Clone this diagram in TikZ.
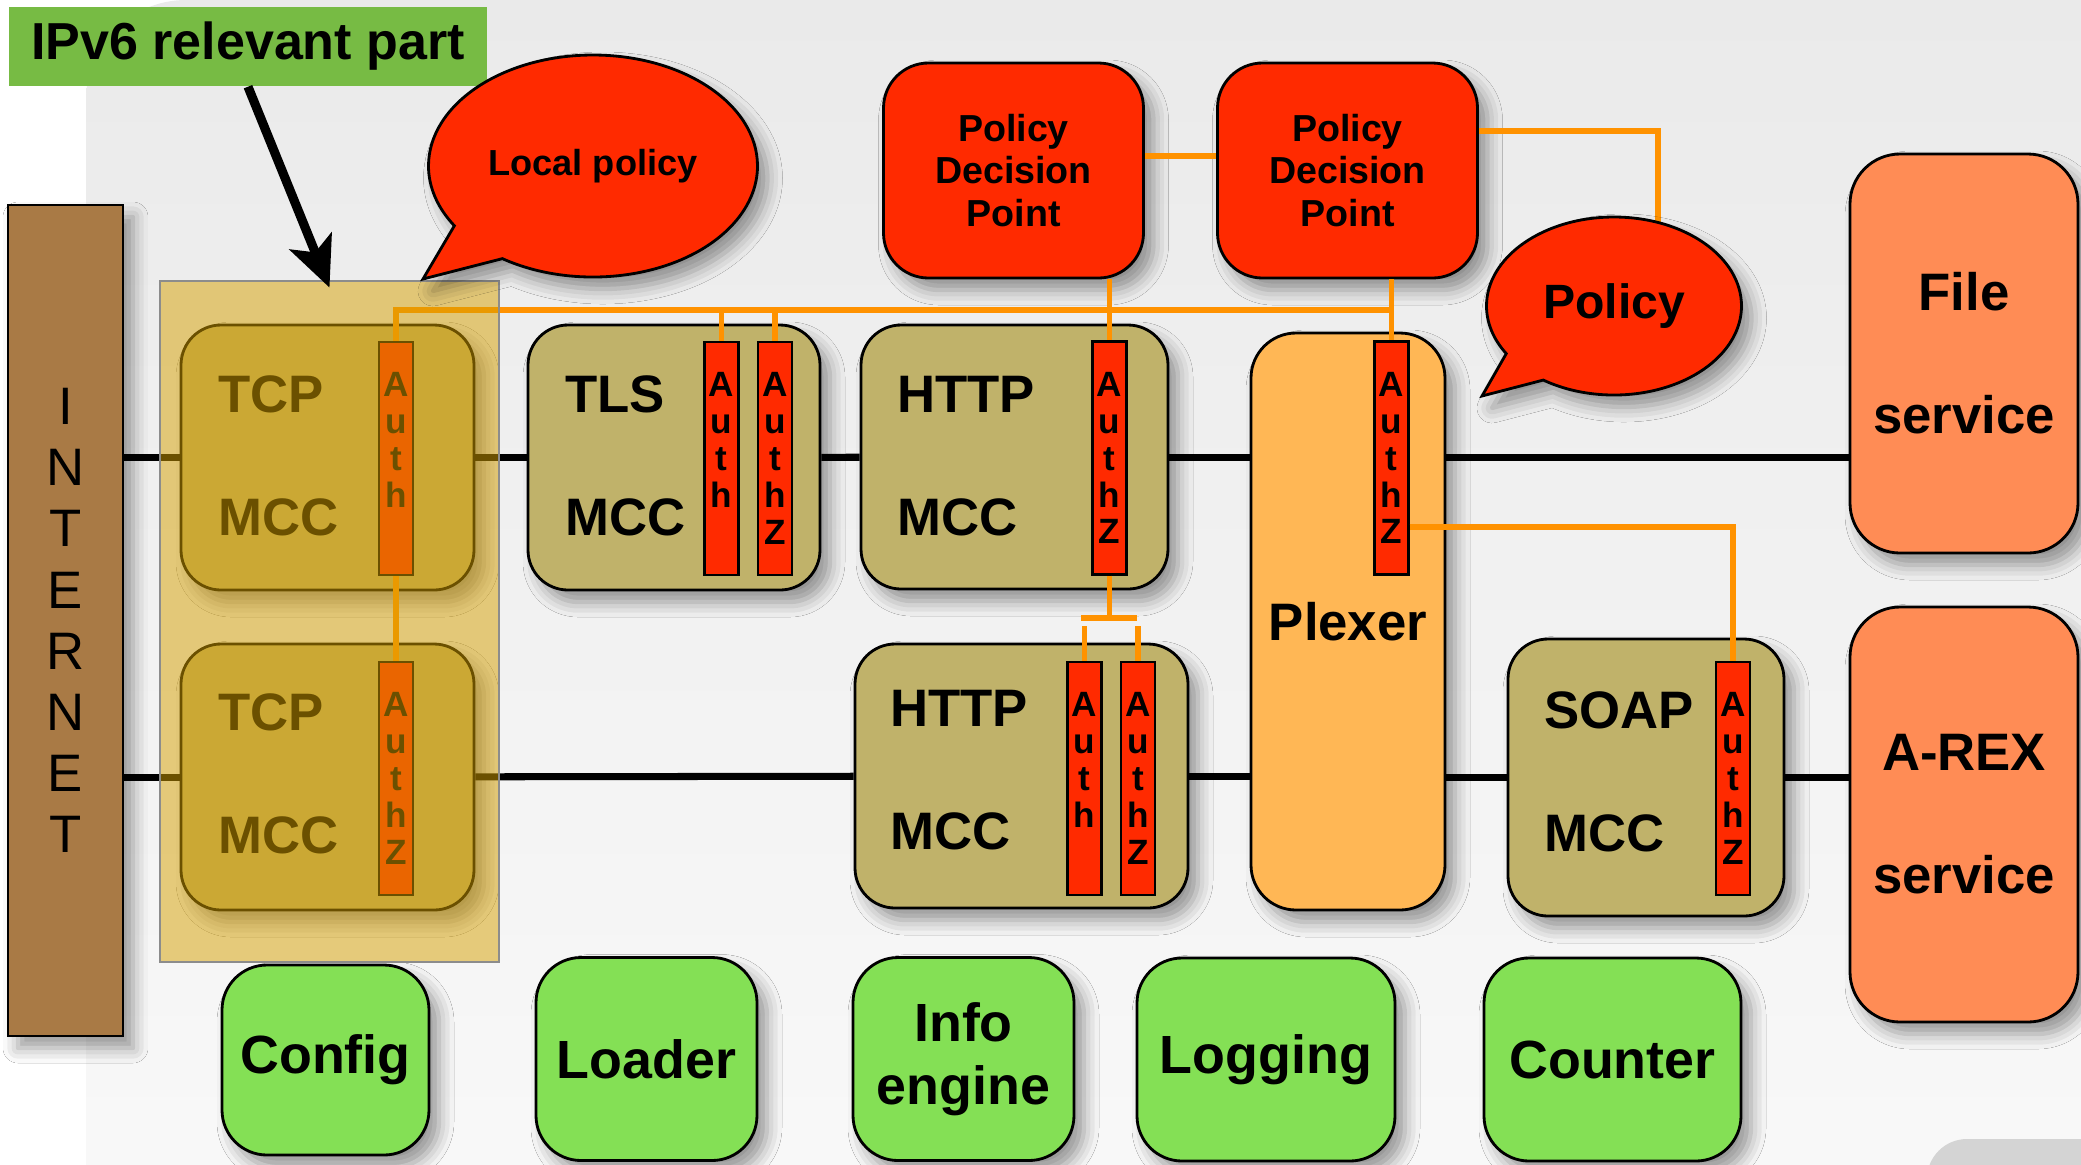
\documentclass[tikz,border=0pt]{standalone}
\usepackage{fontspec}
\setmainfont{Liberation Sans}
\usetikzlibrary{arrows.meta,shapes.callouts,shadows.blur}

\definecolor{bgtop}{RGB}{234,234,234}
\definecolor{bgbot}{RGB}{250,250,250}
\definecolor{blobgray}{RGB}{212,212,212}
\definecolor{ipvgreen}{RGB}{119,187,68}
\definecolor{inetbrown}{RGB}{169,122,69}
\definecolor{mcctan}{RGB}{192,178,106}
\definecolor{authred}{RGB}{255,42,0}
\definecolor{pdpred}{RGB}{255,42,0}
\definecolor{plexorange}{RGB}{255,183,85}
\definecolor{servorange}{RGB}{255,140,85}
\definecolor{utilgreen}{RGB}{132,224,85}
\definecolor{polorange}{RGB}{255,146,0}
\definecolor{zonegold}{RGB}{214,160,0}

\begin{document}
\begin{tikzpicture}[x=0.1mm, y=-0.1mm,
  softshadow/.style={blur shadow={shadow xshift=1mm, shadow yshift=-1.2mm, shadow blur radius=1.5mm, shadow opacity=40}},
  mcc/.style={draw, line width=0.8pt, rounded corners=4mm, fill=mcctan, softshadow},
  mcctext/.style={anchor=west, inner sep=0pt, font=\bfseries\fontsize{15}{18}\selectfont},
  authbar/.style={draw, line width=0.7pt, fill=authred, minimum width=3.4mm, minimum height=23.3mm, inner sep=0pt, align=center, font=\bfseries\fontsize{10}{10.5}\selectfont},
  pdp/.style={draw, line width=0.8pt, rounded corners=4.5mm, fill=pdpred, minimum width=26mm, minimum height=21.5mm, align=center, font=\bfseries\fontsize{10.7}{12}\selectfont, softshadow},
  service/.style={draw, line width=0.8pt, rounded corners=5mm, fill=servorange, minimum width=22.8mm, align=center, font=\bfseries\fontsize{15}{35}\selectfont, softshadow},
  util/.style={draw, line width=0.8pt, rounded corners=4.5mm, fill=utilgreen, minimum height=20.3mm, align=center, font=\bfseries\fontsize{15.3}{18}\selectfont, softshadow},
  bubble/.style={ellipse callout, draw, line width=0.8pt, fill=pdpred, callout pointer arc=24, softshadow},
  flow/.style={line width=2pt},
  pol/.style={line width=1.7pt, draw=polorange},
  bigarrow/.style={line width=2.6pt, -{Stealth[length=5mm, width=4.5mm, inset=1.2mm]}}
]
\useasboundingbox (0,0) rectangle (2081,1164);
\clip (0,0) rectangle (2081,1164);
\fill[white] (0,0) rectangle (2081,1164);
\shade[top color=bgtop, bottom color=bgbot, rounded corners=10mm] (86,0) rectangle (2300,1300);
\fill[blobgray, rounded corners=4mm] (1927,1139) rectangle (2300,1400);

% internet side
\node[draw, line width=0.8pt, fill=inetbrown, minimum width=11.5mm, minimum height=83.1mm, align=center, font=\fontsize{15}{17.4}\selectfont, softshadow] (internet) at (65.5,620.5) {I\\N\\T\\E\\R\\N\\E\\T};

% first chain
\node[mcc, minimum width=29.3mm, minimum height=26.5mm] (tcpa) at (327.5,457.5) {};
\node[mcctext] (tcpa-top) at ([shift={(3.8mm,-7.1mm)}]tcpa.north west) {TCP};
\node[mcctext] (tcpa-bot) at ([shift={(3.8mm,-19.4mm)}]tcpa.north west) {MCC};
\node[authbar] (tcpa-auth) at (396,458.5) {A\\u\\t\\h\\\phantom{Z}};

\node[mcc, minimum width=29.2mm, minimum height=26.5mm] (tls) at (674,457.5) {};
\node[mcctext] (tls-top) at ([shift={(3.8mm,-7.1mm)}]tls.north west) {TLS};
\node[mcctext] (tls-bot) at ([shift={(3.8mm,-19.4mm)}]tls.north west) {MCC};
\node[authbar] (tls-auth) at (721.5,458.5) {A\\u\\t\\h\\\phantom{Z}};
\node[authbar] (tls-authz) at (775,458.5) {A\\u\\t\\h\\Z};

\node[mcc, minimum width=30.7mm, minimum height=26.4mm] (httpa) at (1014.5,457) {};
\node[mcctext] (httpa-top) at ([shift={(3.7mm,-7.1mm)}]httpa.north west) {HTTP};
\node[mcctext] (httpa-bot) at ([shift={(3.7mm,-19.4mm)}]httpa.north west) {MCC};
\node[authbar] (httpa-authz) at (1109.5,458) {A\\u\\t\\h\\Z};

\node[draw, line width=0.8pt, rounded corners=4.5mm, fill=plexorange, minimum width=19.4mm, minimum height=57.7mm, font=\bfseries\fontsize{15}{18}\selectfont, softshadow] (plexer) at (1348,621.5) {Plexer};
\node[authbar] (plexer-authz) at (1391.5,458) {A\\u\\t\\h\\Z};

% second chain
\node[mcc, minimum width=29.3mm, minimum height=26.6mm] (tcpb) at (327.5,777) {};
\node[mcctext] (tcpb-top) at ([shift={(3.8mm,-7.0mm)}]tcpb.north west) {TCP};
\node[mcctext] (tcpb-bot) at ([shift={(3.8mm,-19.3mm)}]tcpb.north west) {MCC};
\node[authbar] (tcpb-authz) at (396,778.5) {A\\u\\t\\h\\Z};

\node[mcc, minimum width=33.3mm, minimum height=26.4mm] (httpb) at (1021.5,776) {};
\node[mcctext] (httpb-top) at ([shift={(3.6mm,-6.6mm)}]httpb.north west) {HTTP};
\node[mcctext] (httpb-bot) at ([shift={(3.6mm,-18.9mm)}]httpb.north west) {MCC};
\node[authbar] (httpb-auth) at (1084.5,778.5) {A\\u\\t\\h\\\phantom{Z}};
\node[authbar] (httpb-authz) at (1138,778.5) {A\\u\\t\\h\\Z};

\node[mcc, minimum width=27.6mm, minimum height=27.7mm] (soap) at (1646,777.5) {};
\node[mcctext] (soap-top) at ([shift={(3.7mm,-7.3mm)}]soap.north west) {SOAP};
\node[mcctext] (soap-bot) at ([shift={(3.7mm,-19.6mm)}]soap.north west) {MCC};
\node[authbar] (soap-authz) at (1733,778.5) {A\\u\\t\\h\\Z};

% decision points and services
\node[pdp] (pdpa) at (1013.5,170.5) {Policy\\Decision\\Point};
\node[pdp] (pdpb) at (1347.5,170.5) {Policy\\Decision\\Point};
\node[service, minimum height=39.9mm] (file) at (1964,353.5) {File\\service};
\node[service, minimum height=41.5mm] (arex) at (1964,814.5) {A-REX\\service};

% utilities
\node[util, minimum width=20.7mm, minimum height=19mm] (config) at (325.5,1060) {Config};
\node[util, minimum width=22.1mm] (loader) at (646.5,1059) {Loader};
\node[util, minimum width=22.1mm] (info) at (963.5,1059) {Info\\engine};
\node[util, minimum width=25.8mm] (logging) at (1266,1059.5) {Logging};
\node[util, minimum width=25.7mm] (counter) at (1612.5,1059.5) {Counter};

% message flow
\draw[flow] (internet.east |- tcpa) -- (tcpa);
\draw[flow] (tcpa) -- (tls);
\draw[flow] (tls) -- (httpa);
\draw[flow] (httpa.east) -- (plexer.west |- httpa.east);
\draw[flow] (plexer.east |- httpa.east) -- (file.west |- httpa.east);
\draw[flow] (internet.east |- tcpb) -- (tcpb);
\draw[flow] (tcpb) -- (httpb);
\draw[flow] (httpb.east) -- (plexer.west |- httpb.east);
\draw[flow] (plexer.east |- soap.west) -- (soap.west);
\draw[flow] (soap.east) -- (arex.west |- soap.east);

% policy wiring
\coordinate (bus) at (1391.5,310);
\coordinate (polhook) at (1658,224);
\coordinate (tee) at (1107,618);
\coordinate (teel) at (1081,618);
\coordinate (teer) at (1137,618);
\coordinate (legs) at (0,626);
\draw[pol] (tcpa-auth.north) |- (bus);
\draw[pol] (tls-auth.north) -- (tls-auth.north |- bus);
\draw[pol] (tls-authz.north) -- (tls-authz.north |- bus);
\draw[pol] (pdpa.south -| httpa-authz) -- (httpa-authz.north);
\draw[pol] (pdpb.south -| plexer-authz) -- (plexer-authz.north);
\draw[pol] ([yshift=1.5mm]pdpa.east) -- ([yshift=1.5mm]pdpb.west);
\draw[pol] ([yshift=4mm]pdpb.east) -| (polhook);
\draw[pol] ([yshift=-6.9mm]plexer-authz.east) -| (soap-authz.north);
\draw[pol] (tcpa-auth.south) -- (tcpb-authz.north);
\draw[pol] (httpa-authz.south) -- (httpa-authz.south |- tee);
\draw[pol] (teel) -- (teer);
\draw[pol] (httpb-auth.north |- legs) -- (httpb-auth.north);
\draw[pol] (httpb-authz.north |- legs) -- (httpb-authz.north);

% IPv6 part
\node[draw=black!45, line width=0.8pt, fill=zonegold, fill opacity=0.5, minimum width=33.9mm, minimum height=68.1mm] (zone) at (329.5,621.5) {};
\node[fill=ipvgreen, minimum width=47.8mm, minimum height=7.9mm, font=\bfseries\fontsize{14.8}{17}\selectfont] (ipv6) at (248,46.5) {IPv6 relevant part};
\draw[bigarrow] (ipv6.south) -- ([yshift=-0.8mm]zone.north);

% policies
\node[bubble, minimum width=32mm, minimum height=22.2mm, callout absolute pointer={(423,279)}, font=\bfseries\fontsize{10.3}{12}\selectfont] (localpol) at (593,166) {Local policy};
\node[bubble, minimum width=25.5mm, minimum height=17.8mm, callout absolute pointer={(1482,396)}, font=\bfseries\fontsize{13.7}{16}\selectfont] (policy) at (1614,306) {Policy};
\end{tikzpicture}
\end{document}
